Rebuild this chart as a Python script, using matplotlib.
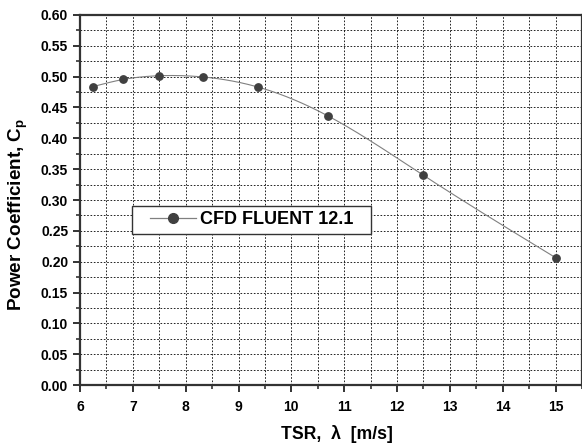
import numpy as np
import matplotlib
matplotlib.use("Agg")
from matplotlib import pyplot as plt
from matplotlib.ticker import MultipleLocator, FormatStrFormatter
from matplotlib.legend_handler import HandlerLine2D

tsr = [6.25, 6.82, 7.5, 8.33, 9.375, 10.7, 12.5, 15.0]
cp = [0.484, 0.4955, 0.5015, 0.4995, 0.483, 0.436, 0.340, 0.2065]
label = "CFD FLUENT 12.1"


def natural_spline(x, y, n=300):
    # smooth curve through the points, like Origin's spline connector
    x = np.asarray(x, float)
    y = np.asarray(y, float)
    k = len(x)
    h = np.diff(x)
    A = np.zeros((k, k))
    r = np.zeros(k)
    A[0, 0] = A[-1, -1] = 1
    for i in range(1, k - 1):
        A[i, i - 1] = h[i - 1]
        A[i, i] = 2 * (h[i - 1] + h[i])
        A[i, i + 1] = h[i]
        r[i] = 6 * ((y[i + 1] - y[i]) / h[i] - (y[i] - y[i - 1]) / h[i - 1])
    m = np.linalg.solve(A, r)
    xs = np.linspace(x[0], x[-1], n)
    j = np.clip(np.searchsorted(x, xs) - 1, 0, k - 2)
    t0 = x[j + 1] - xs
    t1 = xs - x[j]
    hj = h[j]
    ys = (m[j] * t0 ** 3 + m[j + 1] * t1 ** 3) / (6 * hj) \
        + (y[j] / hj - m[j] * hj / 6) * t0 + (y[j + 1] / hj - m[j + 1] * hj / 6) * t1
    return xs, ys


plt.rcParams['font.family'] = ['Liberation Sans', 'DejaVu Sans']
plt.rcParams['font.weight'] = 'bold'
plt.rcParams['mathtext.fontset'] = 'custom'
plt.rcParams['mathtext.rm'] = 'Liberation Sans'

fig = plt.figure(figsize=(5.82, 4.48), dpi=100)
ax = fig.add_axes([80 / 582, 1 - 385 / 448, 1 - 80 / 582, 370 / 448])

xs, ys = natural_spline(tsr, cp)
ax.plot(xs, ys, color="#808080", lw=0.8, zorder=3)
ax.plot(tsr, cp, "o", color="#404040", ms=5.3, zorder=4)
h, = ax.plot([], [], "-o", color="#808080", mfc="#404040", mec="#404040", ms=7, lw=0.9)

ax.set_xlim(6, 15.5)
ax.set_ylim(0, 0.6)
ax.xaxis.set_major_locator(MultipleLocator(1))
ax.xaxis.set_minor_locator(MultipleLocator(0.5))
ax.yaxis.set_major_locator(MultipleLocator(0.05))
ax.yaxis.set_minor_locator(MultipleLocator(0.025))
ax.yaxis.set_major_formatter(FormatStrFormatter('%.2f'))

ax.grid(which="both", color="black", ls=(0, (2, 2)), lw=0.6)
ax.set_axisbelow(True)

for s in ax.spines.values():
    s.set_linewidth(1.6)
    s.set_color("#333333")

ax.tick_params(which="major", direction="out", length=5, width=1.4, color="#333333",
               labelsize=10)
ax.tick_params(which="minor", direction="out", length=3, width=1.2, color="#333333")
ax.tick_params(axis="x", pad=6)

ax.set_xlabel("TSR,  λ  [m/s]", fontsize=12.7, fontweight="bold")
ax.set_ylabel("Power Coefficient, C$_\\mathrm{p}$", fontsize=13.6, fontweight="bold")
ax.xaxis.set_label_coords(0.512, -0.108)
ax.yaxis.set_label_coords(-0.100, 0.46)

leg = ax.legend([h], [label], loc="upper left", bbox_to_anchor=(52 / 502, 0.4838, 239 / 502, 0),
                mode="expand", borderaxespad=0, fancybox=False, framealpha=1,
                edgecolor="#333333", prop={"size": 13, "weight": "bold"},
                borderpad=0.3, handlelength=3.25, handletextpad=0.22,
                handler_map={h: HandlerLine2D(xpad=0.7)})
leg.get_frame().set_linewidth(1.0)

plt.savefig("out.png", dpi=100)
